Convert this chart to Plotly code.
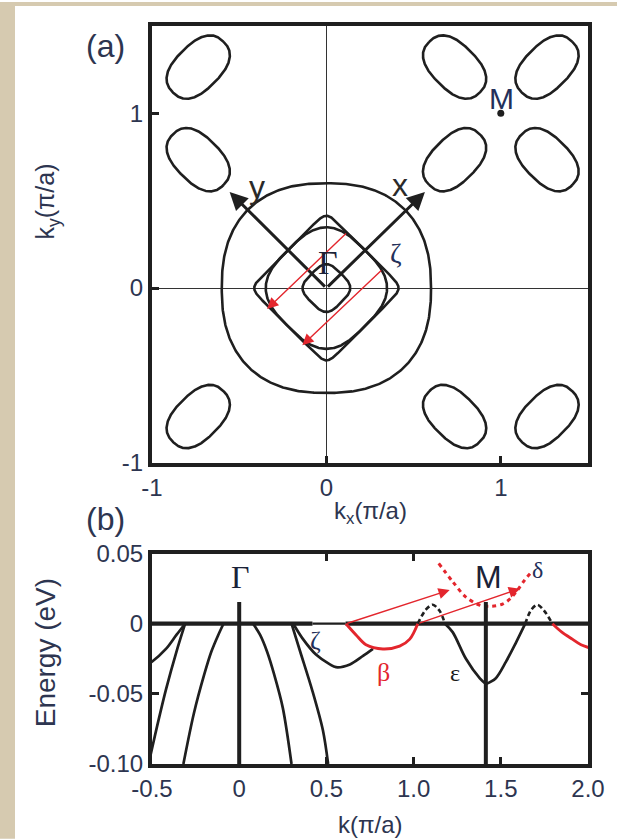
import numpy as np
import plotly.graph_objects as go

W, H = 617, 839
ML, MR, MT, MB = 152, 29, 24, 75
PW, PH = W - ML - MR, H - MT - MB

INK = "#1f1f1f"
RED = "#e3262d"
TICK_COL = "#2d3550"
SANS = "Liberation Sans, Arial, sans-serif"
SERIF = "Liberation Serif, Times New Roman, serif"

# ---------------- panel (a): Fermi surface ----------------
m_points_x = [1, -1, -1, 1]
m_points_y = [1, 1, -1, -1]
pocket_offset = 0.265
pocket_major = 0.205
pocket_minor = 0.128
pocket_power = 2.5

outer_sheet_radius = 0.6
outer_sheet_power = 2.4

diamond_half_width = [0.31, 0.31, 0.118]
diamond_power = [12.0, 3.0, 3.5]

axis_arrow_tip_x = [0.565, -0.555]
axis_arrow_tip_y = [0.55, 0.55]
axis_arrow_names = ["x", "y"]
axis_arrow_label_x = [0.42, -0.40]
axis_arrow_label_y = [0.59, 0.58]

nest_a_start_x = [0.121, 0.323]
nest_a_start_y = [0.321, 0.109]
nest_a_end_x = [-0.34, -0.138]
nest_a_end_y = [-0.12, -0.327]

# ---------------- panel (b): band dispersion ----------------
k_M = float(np.sqrt(2))

inner_left_k = [-0.32, -0.26, -0.20, -0.16, -0.12, -0.09]
inner_left_E = [-0.100, -0.064, -0.036, -0.020, -0.008, 0.0]
inner_right_k = [0.08, 0.12, 0.16, 0.20, 0.25, 0.30]
inner_right_E = [0.0, -0.008, -0.020, -0.036, -0.060, -0.100]

outer_left_k = [-0.52, -0.48, -0.42, -0.36, -0.31]
outer_left_E = [-0.100, -0.078, -0.047, -0.020, 0.0]
outer_right_k = [0.30, 0.35, 0.42, 0.48, 0.51]
outer_right_E = [0.0, -0.020, -0.048, -0.076, -0.100]

zeta_left_k = [-0.56, -0.50, -0.42, -0.36, -0.31]
zeta_left_E = [-0.031, -0.027, -0.018, -0.008, 0.0]
zeta_right_k = [0.31, 0.366, 0.44, 0.52, 0.555, 0.635, 0.71, 0.767]
zeta_right_E = [0.0, -0.011, -0.022, -0.029, -0.031, -0.029, -0.023, -0.018]

beta_k = [0.612, 0.67, 0.727, 0.824, 0.92, 0.978, 1.024]
beta_E = [0.0, -0.008, -0.015, -0.018, -0.016, -0.011, 0.0]
beta2_k = [1.796, 1.85, 1.91, 1.96, 2.03]
beta2_E = [0.0, -0.006, -0.011, -0.015, -0.018]

eps_left_k = [1.18, 1.224, 1.30, 1.38, k_M]
eps_left_E = [0.0, -0.006, -0.025, -0.039, -0.043]
eps_right_k = [k_M, 1.47, 1.53, 1.585, 1.64]
eps_right_E = [-0.043, -0.039, -0.027, -0.014, 0.0]

bump1_k = [1.024, 1.07, 1.11, 1.15, 1.18]
bump1_E = [0.0, 0.010, 0.0135, 0.009, 0.0]
bump2_k = [1.64, 1.675, 1.71, 1.75, 1.796]
bump2_E = [0.0, 0.010, 0.0135, 0.009, 0.0]

delta_k = [1.144, 1.224, 1.30, 1.385, 1.45, 1.51, 1.556, 1.596, 1.636, 1.67]
delta_E = [0.043, 0.030, 0.019, 0.013, 0.0125, 0.014, 0.018, 0.024, 0.031, 0.036]

nest_b_start_k = [0.612, 1.024]
nest_b_start_E = [0.0, 0.0]
nest_b_end_k = [1.207, 1.61]
nest_b_end_E = [0.024, 0.025]

fermi_thick_k = [[-0.5, 0.42], [0.61, 2.0]]
fermi_thin_k = [0.42, 0.61]
symmetry_k = [0.0, k_M]
symmetry_top_E = 0.0155


def superellipse(cx, cy, a, b, n, angle, num=500):
    t = np.linspace(0, 2 * np.pi, num)
    c, s = np.cos(t), np.sin(t)
    u = a * np.sign(c) * np.abs(c) ** (2 / n)
    v = b * np.sign(s) * np.abs(s) ** (2 / n)
    ca, sa = np.cos(angle), np.sin(angle)
    return cx + u * ca - v * sa, cy + u * sa + v * ca


fig = go.Figure()


def line_a(x, y, width=2.6, color=INK):
    fig.add_trace(go.Scatter(x=x, y=y, mode="lines", xaxis="x", yaxis="y",
                             line=dict(color=color, width=width),
                             hoverinfo="skip", showlegend=False))


# electron pockets around the M points
for mx, my in zip(m_points_x, m_points_y):
    for sx in (-1, 1):
        for sy in (-1, 1):
            cx = mx + sx * pocket_offset
            cy = my + sy * pocket_offset
            px, py = superellipse(cx, cy, pocket_major, pocket_minor,
                                  pocket_power, np.arctan2(sy, sx))
            line_a(px, py)

# hole sheets around Gamma
px, py = superellipse(0, 0, outer_sheet_radius, outer_sheet_radius,
                      outer_sheet_power, 0.0)
line_a(px, py)
for s, n in zip(diamond_half_width, diamond_power):
    px, py = superellipse(0, 0, s, s, n, np.pi / 4)
    line_a(px, py)

# M point marker
fig.add_trace(go.Scatter(x=[m_points_x[0]], y=[m_points_y[0]], mode="markers",
                         xaxis="x", yaxis="y", marker=dict(color=INK, size=7),
                         hoverinfo="skip", showlegend=False))


# ---------------- panel (b) traces ----------------
def line_b(x, y, width=2.7, color=INK, dash=None, shape="spline", xa="x2", ya="y2"):
    fig.add_trace(go.Scatter(x=x, y=y, mode="lines", xaxis=xa, yaxis=ya,
                             line=dict(color=color, width=width, dash=dash,
                                       shape=shape, smoothing=0.9),
                             hoverinfo="skip", showlegend=False))


for seg in fermi_thick_k:
    line_b(seg, [0, 0], width=4.2, shape="linear")
line_b(fermi_thin_k, [0, 0], width=2.2, shape="linear")

for kk, ee in [(inner_left_k, inner_left_E), (inner_right_k, inner_right_E),
               (outer_left_k, outer_left_E), (outer_right_k, outer_right_E),
               (zeta_left_k, zeta_left_E), (zeta_right_k, zeta_right_E),
               (eps_left_k, eps_left_E), (eps_right_k, eps_right_E)]:
    line_b(kk, ee)

for kk, ee in [(bump1_k, bump1_E), (bump2_k, bump2_E)]:
    line_b(kk, ee, width=2.6, dash="5px,3px")

line_b(beta_k, beta_E, color=RED, width=2.9)
line_b(beta2_k, beta2_E, color=RED, width=2.9)
line_b(delta_k, delta_E, color=RED, width=3, dash="4px,4px")

for k in symmetry_k:
    line_b([k, k], [-0.1, symmetry_top_E], width=4, shape="linear")

# dummy traces so the mirrored tick axes are drawn
fig.add_trace(go.Scatter(x=[None], y=[None], xaxis="x3", yaxis="y2",
                         showlegend=False, hoverinfo="skip"))
fig.add_trace(go.Scatter(x=[None], y=[None], xaxis="x2", yaxis="y3",
                         showlegend=False, hoverinfo="skip"))

# ---------------- annotations ----------------
ann = []


def paper_x(px):
    return (px - ML) / PW


def paper_y(py):
    return (H - MB - py) / PH


def text(x, y, s, size, color=TICK_COL, family=SANS, xref="paper", yref="paper", angle=0):
    ann.append(dict(x=x, y=y, xref=xref, yref=yref, text=s, showarrow=False,
                    font=dict(size=size, color=color, family=family),
                    xanchor="center", yanchor="middle", textangle=angle))


def arrow(x0, y0, x1, y1, xr, yr, color, width, size, head=2):
    ann.append(dict(x=x1, y=y1, ax=x0, ay=y0, xref=xr, yref=yr, axref=xr, ayref=yr,
                    text="", showarrow=True, arrowhead=head, arrowsize=size,
                    arrowwidth=width, arrowcolor=color, standoff=0, startstandoff=0))


# panel letters and axis titles
text(paper_x(105), paper_y(44), "(a)", 32)
text(paper_x(105), paper_y(518), "(b)", 32)
text(paper_x(47), paper_y(200), "k<sub>y</sub>(π/a)", 25, angle=-90)
text(paper_x(370), paper_y(512), "k<sub>x</sub>(π/a)", 24)
text(paper_x(45), paper_y(653), "Energy (eV)", 28, angle=-90)
text(paper_x(370), paper_y(825), "k(π/a)", 24)

# panel (a) arrows and labels
for tx, ty in zip(axis_arrow_tip_x, axis_arrow_tip_y):
    arrow(0, 0, tx, ty, "x", "y", INK, 3, 1.2)
for name, lx, ly in zip(axis_arrow_names, axis_arrow_label_x, axis_arrow_label_y):
    text(lx, ly, name, 32, color="#2a2a2a", xref="x", yref="y")
for x0, y0, x1, y1 in zip(nest_a_start_x, nest_a_start_y, nest_a_end_x, nest_a_end_y):
    arrow(x0, y0, x1, y1, "x", "y", RED, 1.4, 1.6)
text(0.012, 0.149, "Γ", 34, color="#1a2238", family=SERIF, xref="x", yref="y")
text(0.40, 0.20, "ζ", 28, color="#23305a", family=SERIF, xref="x", yref="y")
text(1.003, 1.083, "M", 30, color="#23305a", xref="x", yref="y")

# panel (b) arrows and labels
for k0, e0, k1, e1 in zip(nest_b_start_k, nest_b_start_E, nest_b_end_k, nest_b_end_E):
    arrow(k0, e0, k1, e1, "x2", "y2", RED, 1.4, 1.6)
text(0.006, 0.033, "Γ", 32, color="#1a2238", family=SERIF, xref="x2", yref="y2")
text(1.43, 0.033, "M", 32, color="#1a2238", xref="x2", yref="y2")
text(1.71, 0.038, "δ", 24, color="#23305a", family=SERIF, xref="x2", yref="y2")
text(0.44, -0.012, "ζ", 26, color="#23305a", family=SERIF, xref="x2", yref="y2")
text(0.83, -0.035, "β", 26, color=RED, family=SERIF, xref="x2", yref="y2")
text(1.24, -0.035, "ε", 24, color="#1a1a1a", family=SERIF, xref="x2", yref="y2")

# ---------------- layout ----------------
frame = dict(showline=True, linewidth=4, linecolor=INK, mirror=True,
             showgrid=False, ticks="inside", ticklen=7, tickwidth=3, tickcolor=INK,
             tickfont=dict(size=24, color=TICK_COL, family=SANS))

beige = "#d6cab0"
shapes = [
    dict(type="rect", xref="paper", yref="paper", layer="below",
         x0=paper_x(0), x1=paper_x(15), y0=paper_y(H), y1=paper_y(0),
         fillcolor=beige, line=dict(width=0)),
    dict(type="rect", xref="paper", yref="paper", layer="below",
         x0=paper_x(0), x1=paper_x(W), y0=paper_y(4), y1=paper_y(0),
         fillcolor=beige, line=dict(width=0)),
]

fig.update_layout(
    width=W, height=H, margin=dict(l=ML, r=MR, t=MT, b=MB),
    paper_bgcolor="white", plot_bgcolor="white",
    annotations=ann, shapes=shapes,
    xaxis=dict(domain=[0, 1], range=[-1, 1.5], anchor="y",
               tickvals=[-1, 0, 1], ticktext=["-1", "0", "1"],
               zeroline=True, zerolinecolor="#333333", zerolinewidth=1, **frame),
    yaxis=dict(domain=[paper_y(462), 1], range=[-1, 1.5], anchor="x",
               tickvals=[-1, 0, 1], ticktext=["-1", "0", "1"],
               zeroline=True, zerolinecolor="#333333", zerolinewidth=1, **frame),
    xaxis2=dict(domain=[0, 1], range=[-0.5, 2.0], anchor="y2",
                tickvals=[-0.5, 0, 0.5, 1.0, 1.5, 2.0],
                ticktext=["-0.5", "0", "0.5", "1.0", "1.5", "2.0"],
                zeroline=False, **frame),
    yaxis2=dict(domain=[0, paper_y(553)], range=[-0.1, 0.05], anchor="x2",
                tickvals=[-0.1, -0.05, 0, 0.05],
                ticktext=["-0.10", "-0.05", "0", "0.05"],
                zeroline=False, **frame),
    xaxis3=dict(overlaying="x2", side="top", anchor="y2", range=[-0.5, 2.0],
                tickvals=[0.5, 1.0], ticks="inside", ticklen=7, tickwidth=3,
                tickcolor=INK, showticklabels=False, showline=False,
                showgrid=False, zeroline=False),
    yaxis3=dict(overlaying="y2", side="right", anchor="x2", range=[-0.1, 0.05],
                tickvals=[-0.05], ticks="inside", ticklen=7, tickwidth=3,
                tickcolor=INK, showticklabels=False, showline=False,
                showgrid=False, zeroline=False),
)

fig.write_html("out.html")
